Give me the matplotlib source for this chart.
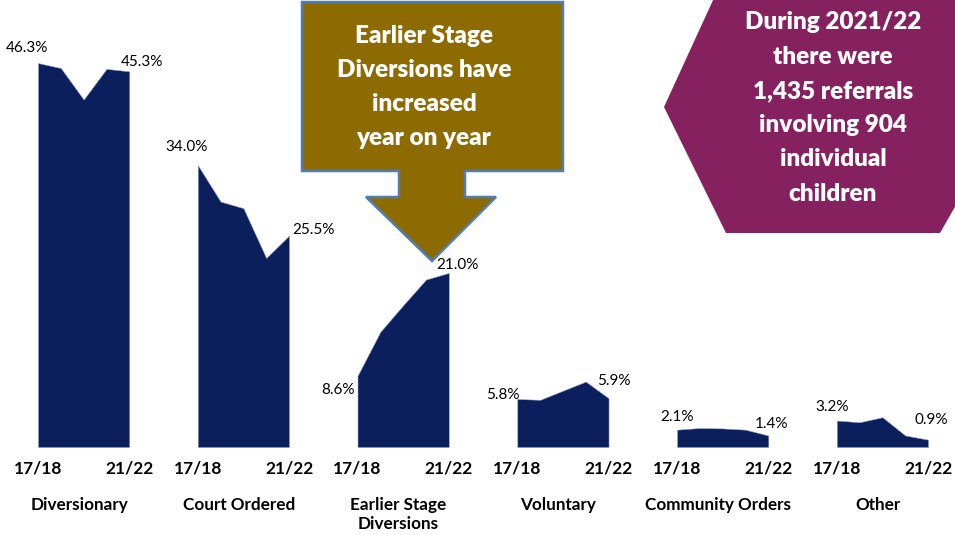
import matplotlib
matplotlib.use('Agg')
import matplotlib.pyplot as plt
from matplotlib.patches import Polygon
import matplotlib.transforms as mtransforms

plt.rcParams['font.family'] = ['Lato', 'DejaVu Sans']

# data (share of referrals, %)
categories = ['Diversionary', 'Court Ordered', 'Earlier Stage\nDiversions',
              'Voluntary', 'Community Orders', 'Other']
years = ['17/18', '18/19', '19/20', '20/21', '21/22']
diversionary = [46.3, 45.7, 41.9, 45.6, 45.3]
court_ordered = [34.0, 29.6, 28.8, 22.8, 25.5]
earlier_stage = [8.6, 13.9, 17.1, 20.2, 21.0]
voluntary = [5.8, 5.7, 6.8, 7.9, 5.9]
community = [2.1, 2.3, 2.25, 2.1, 1.4]
other = [3.2, 3.0, 3.6, 1.4, 0.9]
series = [diversionary, court_ordered, earlier_stage, voluntary, community, other]

# label offsets in points (first label, last label)
first_off = [(7, 11), (7, 13), (-2, -10), (2, 3), (12, 9), (9, 10)]
last_off = [(-6, 7), (2, 4), (-9, 6), (-8, 12), (-10, 8), (-10, 14)]

navy = '#0A1F5C'
W, H = 955, 535
fig = plt.figure(figsize=(W / 100, H / 100), dpi=100)
ax = fig.add_axes([0, 0, 1, 1])
ax.set_xlim(-1.665, 40.18)
ax.set_ylim(-10.6, 53.9)
ax.axis('off')

gap = 7
tr = mtransforms.blended_transform_factory(ax.transData, fig.transFigure)
for g, vals in enumerate(series):
    xs = [g * gap + i for i in range(len(vals))]
    ax.fill_between(xs, 0, vals, color=navy, edgecolor='#9aa6c4', linewidth=0.4)
    ax.annotate('{:.1f}%'.format(vals[0]), (xs[0], vals[0]), xytext=first_off[g],
                textcoords='offset points', ha='right', va='center', fontsize=11)
    ax.annotate('{:.1f}%'.format(vals[-1]), (xs[-1], vals[-1]), xytext=last_off[g],
                textcoords='offset points', ha='left', va='center', fontsize=11)
    ax.text(xs[0], 1 - 468 / H, years[0], transform=tr, ha='center', va='center',
            fontsize=12.5, fontweight='bold')
    ax.text(xs[-1], 1 - 468 / H, years[-1], transform=tr, ha='center', va='center',
            fontsize=12.5, fontweight='bold')
    ax.text(xs[2] - 0.2, 1 - 497 / H, categories[g], transform=tr, ha='center', va='top',
            fontsize=12.3, fontweight='bold', linespacing=1.22)


def px(pts):
    return [(x / W, 1 - y / H) for x, y in pts]


# arrow callout
arrow = [(302, 2), (563, 2), (563, 171), (465, 171), (465, 197), (496, 197),
         (432, 261), (366, 197), (399, 197), (399, 171), (302, 171)]
fig.patches.append(Polygon(px(arrow), closed=True, transform=fig.transFigure,
                           facecolor='#8E6B00', edgecolor='#4F7DB4', linewidth=1.8))
fig.text(424 / W, 1 - 87 / H, 'Earlier Stage\nDiversions have\nincreased\nyear on year',
         ha='center', va='center', color='white', fontsize=17.5, fontweight='heavy',
         linespacing=1.68)

# hexagon
hexa = [(664, 107), (714, -2), (960, -2), (960, 198), (940, 233), (726, 233)]
fig.patches.append(Polygon(px(hexa), closed=True, transform=fig.transFigure,
                           facecolor='#86215F', edgecolor='none'))
fig.text(833 / W, 1 - 108 / H,
         'During 2021/22\nthere were\n1,435 referrals\ninvolving 904\nindividual\nchildren',
         ha='center', va='center', color='white', fontsize=17.5, fontweight='heavy',
         linespacing=1.68)

fig.savefig('out.png', dpi=100)
